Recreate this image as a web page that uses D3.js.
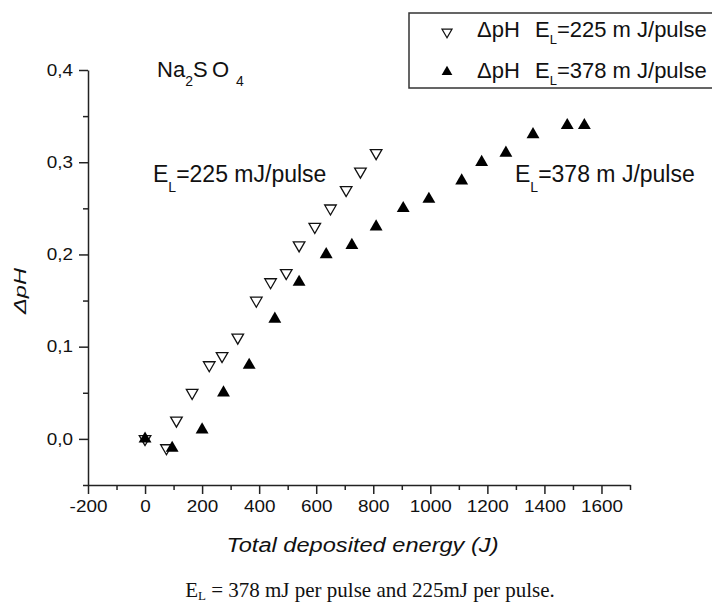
<!DOCTYPE html>
<html>
<head>
<meta charset="utf-8">
<script src="https://cdn.jsdelivr.net/npm/d3@7"></script>
<style>
  html, body { margin: 0; padding: 0; background: #fff; }
  svg { display: block; }
  text { fill: #111; }
</style>
</head>
<body>
<svg id="chart" width="712" height="606"></svg>
<script>
// ΔpH versus total deposited energy, Na2SO4, two laser pulse energies
const energy225 = [0, 75, 110, 165, 225, 270, 325, 390, 440, 495, 540, 595, 650, 705, 755, 810];
const dph225    = [0, -0.01, 0.02, 0.05, 0.08, 0.09, 0.11, 0.15, 0.17, 0.18, 0.21, 0.23, 0.25, 0.27, 0.29, 0.31];
const energy378 = [0, 95, 200, 275, 365, 455, 540, 635, 725, 810, 905, 995, 1110, 1180, 1265, 1360, 1480, 1540];
const dph378    = [0, -0.01, 0.01, 0.05, 0.08, 0.13, 0.17, 0.20, 0.21, 0.23, 0.25, 0.26, 0.28, 0.30, 0.31, 0.33, 0.34, 0.34];

const xMajorTicks = [-200, 0, 200, 400, 600, 800, 1000, 1200, 1400, 1600];
const xMinorTicks = [-100, 100, 300, 500, 700, 900, 1100, 1300, 1500, 1700];
const yMajorTicks = [0, 0.1, 0.2, 0.3, 0.4];
const yMinorTicks = [-0.05, 0.05, 0.15, 0.25, 0.35];

const svg = d3.select("#chart");
const FONT = "'Liberation Sans', Arial, sans-serif";

const x = d3.scaleLinear().domain([-200, 1700]).range([88, 630]);
const y = d3.scaleLinear().domain([-0.05, 0.4]).range([485, 70]);

const axisColor = "#222";
const fmtY = d => d3.format(".1f")(d).replace(".", ",");
const fmtX = d => String(d);

function styleAxis(g) {
  g.select(".domain").attr("stroke", axisColor).attr("stroke-width", 1.5);
  g.selectAll(".tick line").attr("stroke", axisColor).attr("stroke-width", 1.5);
  g.selectAll(".tick text").attr("font-family", FONT).attr("font-size", 16)
    .attr("fill", "#1a1a2a").attr("class", "stretch");
}

// x axis: minor ticks first, then labelled major ticks
svg.append("g").attr("transform", `translate(0,${y(-0.05)})`)
  .call(d3.axisBottom(x).tickValues(xMinorTicks).tickSize(5).tickSizeOuter(0).tickFormat(""))
  .call(g => { styleAxis(g); g.select(".domain").remove(); });
svg.append("g").attr("transform", `translate(0,${y(-0.05)})`)
  .call(d3.axisBottom(x).tickValues(xMajorTicks).tickSize(9).tickSizeOuter(0).tickPadding(7).tickFormat(fmtX))
  .call(styleAxis);

// y axis
svg.append("g").attr("transform", `translate(${x(-200)},0)`)
  .call(d3.axisLeft(y).tickValues(yMinorTicks).tickSize(5).tickSizeOuter(0).tickFormat(""))
  .call(g => { styleAxis(g); g.select(".domain").remove(); });
svg.append("g").attr("transform", `translate(${x(-200)},0)`)
  .call(d3.axisLeft(y).tickValues(yMajorTicks).tickSize(9).tickSizeOuter(0).tickPadding(6).tickFormat(fmtY))
  .call(styleAxis);

// markers
const triUp = d3.symbol().type(d3.symbolTriangle).size(72)();
const triOpen = d3.symbol().type(d3.symbolTriangle).size(58)();

const s225 = energy225.map((e, i) => ({ e, v: dph225[i] }));
const s378 = energy378.map((e, i) => ({ e, v: dph378[i] }));

svg.append("g").selectAll("path").data(s225).join("path")
  .attr("d", triOpen)
  .attr("transform", d => `translate(${x(d.e)},${y(d.v)}) rotate(180)`)
  .attr("fill", "none").attr("stroke", "#111").attr("stroke-width", 1.3);

svg.append("g").selectAll("path").data(s378).join("path")
  .attr("d", triUp)
  .attr("transform", d => `translate(${x(d.e)},${y(d.v)})`)
  .attr("fill", "#000");

// axis titles
svg.append("text")
  .attr("class", "xtitle")
  .attr("x", 362.5).attr("y", 552)
  .attr("text-anchor", "middle")
  .attr("font-family", FONT).attr("font-size", 20).attr("font-style", "italic")
  .attr("fill", "#1a1a2a")
  .text("Total deposited energy (J)");

svg.append("text")
  .attr("class", "ytitle")
  .attr("transform", "translate(26,291) rotate(-90)")
  .attr("text-anchor", "middle")
  .attr("font-family", FONT).attr("font-size", 17).attr("font-style", "italic")
  .attr("fill", "#111")
  .text("ΔpH");

// compound label
const na = svg.append("text").attr("font-family", FONT).attr("font-size", 22)
  .attr("x", 157).attr("y", 77);
na.append("tspan").text("Na");
na.append("tspan").attr("font-size", 14).attr("dy", 9).text("2");
na.append("tspan").attr("dy", -9).text("S");
na.append("tspan").attr("x", 212).text("O");
na.append("tspan").attr("x", 236).attr("font-size", 14).attr("dy", 9).text("4");

// series annotations
function elLabel(x0, y0, rest, size) {
  const t = svg.append("text").attr("font-family", FONT).attr("font-size", size)
    .attr("x", x0).attr("y", y0);
  t.append("tspan").text("E");
  t.append("tspan").attr("font-size", 14).attr("dy", 10).text("L");
  t.append("tspan").attr("dy", -10).text(rest);
  return t;
}
elLabel(153, 182, "=225 mJ/pulse", 23);
elLabel(515, 182, "=378 m J/pulse", 23);

// legend
svg.append("rect").attr("x", 409).attr("y", 13).attr("width", 400).attr("height", 75)
  .attr("fill", "#fff").attr("stroke", "#333").attr("stroke-width", 1.5);

const legendRows = [
  { label: "=225 m J/pulse", open: true, cy: 32, base: 37 },
  { label: "=378 m J/pulse", open: false, cy: 72, base: 78 }
];
legendRows.forEach(r => {
  const m = svg.append("path")
    .attr("transform", `translate(447,${r.cy})` + (r.open ? " rotate(180)" : ""));
  if (r.open) m.attr("d", d3.symbol().type(d3.symbolTriangle).size(44)()).attr("fill", "none").attr("stroke", "#111").attr("stroke-width", 1.2);
  else m.attr("d", d3.symbol().type(d3.symbolTriangle).size(50)()).attr("fill", "#000");
  const t = svg.append("text").attr("font-family", FONT).attr("font-size", 22).attr("y", r.base);
  t.append("tspan").attr("x", 477).text("ΔpH");
  t.append("tspan").attr("x", 535).text("E");
  t.append("tspan").attr("font-size", 13).attr("dy", 7).text("L");
  t.append("tspan").attr("dy", -7).text(r.label);
});

// caption
const cap = svg.append("text").attr("font-family", "'Liberation Serif', 'Times New Roman', serif")
  .attr("font-size", 21).attr("x", 370).attr("y", 597).attr("text-anchor", "middle");
cap.append("tspan").text("E");
cap.append("tspan").attr("font-size", 13).attr("dy", 3).text("L");
cap.append("tspan").attr("dy", -3).text(" = 378 mJ per pulse and 225mJ per pulse.");

// widen tick labels and axis titles horizontally
svg.selectAll("text.stretch").each(function () {
  const w = this.getComputedTextLength();
  this.setAttribute("textLength", w * 1.18);
  this.setAttribute("lengthAdjust", "spacingAndGlyphs");
});
svg.select("text.xtitle").attr("textLength", 272).attr("lengthAdjust", "spacingAndGlyphs");
svg.select("text.ytitle").attr("textLength", 46).attr("lengthAdjust", "spacingAndGlyphs");
</script>
</body>
</html>
